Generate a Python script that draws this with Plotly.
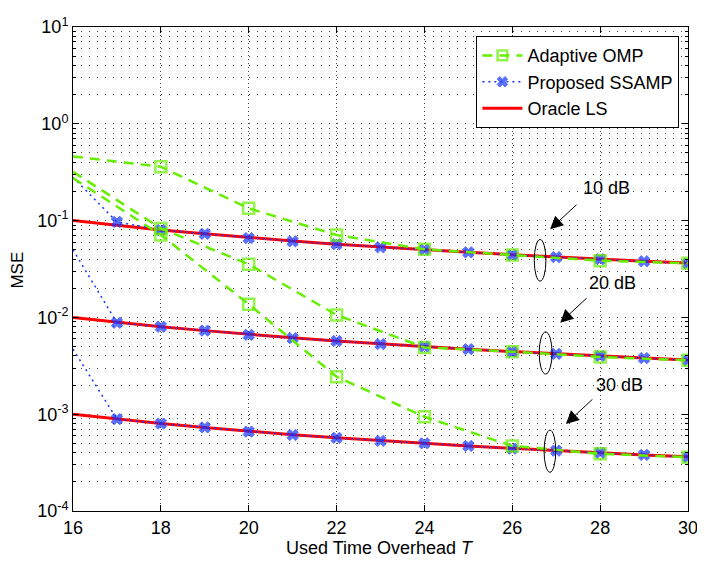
import plotly.graph_objects as go

# time overhead T
t_all = [16, 17, 18, 19, 20, 21, 22, 23, 24, 25, 26, 27, 28, 29, 30]
t_even = [16, 18, 20, 22, 24, 26, 28, 30]

# Oracle LS (10 / 20 / 30 dB)
oracle_10 = [0.100, 0.089, 0.080, 0.073, 0.0665, 0.0615, 0.057, 0.0533, 0.050, 0.047, 0.0444, 0.042, 0.040, 0.038, 0.0364]
oracle_20 = [0.0100, 0.0089, 0.0080, 0.0073, 0.00665, 0.00615, 0.0057, 0.00533, 0.0050, 0.0047, 0.00444, 0.0042, 0.0040, 0.0038, 0.00364]
oracle_30 = [0.00100, 0.00089, 0.00080, 0.00073, 0.000665, 0.000615, 0.00057, 0.000533, 0.00050, 0.00047, 0.000444, 0.00042, 0.00040, 0.00038, 0.000364]

# Proposed SSAMP
ssamp_10 = [0.28, 0.097, 0.080, 0.073, 0.066, 0.061, 0.057, 0.053, 0.050, 0.047, 0.044, 0.042, 0.040, 0.038, 0.036]
ssamp_20 = [0.050, 0.0088, 0.0080, 0.0073, 0.0066, 0.0061, 0.0057, 0.0053, 0.0050, 0.0047, 0.0044, 0.0042, 0.0040, 0.0038, 0.0036]
ssamp_30 = [0.0047, 0.00089, 0.00080, 0.00073, 0.00066, 0.00061, 0.00057, 0.00053, 0.00050, 0.00047, 0.00044, 0.00042, 0.00040, 0.00038, 0.00036]

# Adaptive OMP
omp_10 = [0.46, 0.36, 0.134, 0.071, 0.0505, 0.0441, 0.0385, 0.0362]
omp_20 = [0.32, 0.083, 0.0354, 0.0106, 0.0049, 0.00443, 0.0039, 0.0036]
omp_30 = [0.275, 0.071, 0.0137, 0.00244, 0.00094, 0.00047, 0.00039, 0.00036]

snr_labels = ["10 dB", "20 dB", "30 dB"]
y_tickvals = [1e-4, 1e-3, 1e-2, 1e-1, 1, 10]
y_ticktext = ["10<sup>-4</sup>", "10<sup>-3</sup>", "10<sup>-2</sup>",
              "10<sup>-1</sup>", "10<sup>0</sup>", "10<sup>1</sup>"]

RED = "#ff0000"
BLUE = "#1434ff"
GREEN = "#66ee00"
FONT = "Liberation Sans, Arial, sans-serif"

fig = go.Figure()

for i, ys in enumerate([oracle_10, oracle_20, oracle_30]):
    fig.add_trace(go.Scatter(
        x=t_all, y=ys, mode="lines", name="Oracle LS", legendgroup="ls",
        legendrank=3, showlegend=(i == 0),
        line=dict(color=RED, width=3)))

for i, ys in enumerate([ssamp_10, ssamp_20, ssamp_30]):
    fig.add_trace(go.Scatter(
        x=t_all, y=ys, mode="lines+markers", name="Proposed SSAMP", legendgroup="ssamp",
        legendrank=2, showlegend=(i == 0),
        line=dict(color=BLUE, width=1.5, dash="2px,4px"),
        marker=dict(symbol="x", size=[0] + [10] * 14, color=BLUE,
                    line=dict(width=1, color=BLUE))))

for i, ys in enumerate([omp_10, omp_20, omp_30]):
    fig.add_trace(go.Scatter(
        x=t_even, y=ys, mode="lines+markers", name="Adaptive OMP", legendgroup="omp",
        legendrank=1, showlegend=(i == 0),
        line=dict(color=GREEN, width=2.5, dash="10px,7px"),
        marker=dict(symbol="square-open", size=[0] + [11] * 7, color=GREEN,
                    line=dict(width=2.5, color=GREEN))))

# ellipses round the curve bundles (paper coords)
ellipses = [(0.750, 0.769, 0.475, 0.561),
            (0.758, 0.779, 0.283, 0.370),
            (0.766, 0.785, 0.080, 0.167)]
for x0, x1, y0, y1 in ellipses:
    fig.add_shape(type="circle", xref="paper", yref="paper", x0=x0, x1=x1, y0=y0, y1=y1,
                  line=dict(color="black", width=1))

arrow_tips = [(26.86, -1.090), (27.09, -2.055), (27.22, -3.101)]
label_pos = [(28.15, -0.666), (28.29, -1.648), (28.45, -2.698)]
for (ax_, ay_), (lx, ly), lab in zip(arrow_tips, label_pos, snr_labels):
    fig.add_annotation(x=ax_, y=ay_, xref="x", yref="y", text="", showarrow=True,
                       ax=28, ay=-26, arrowhead=2, arrowsize=2.6, arrowwidth=1,
                       arrowcolor="black")
    fig.add_annotation(x=lx, y=ly, xref="x", yref="y", text=lab, showarrow=False,
                       xanchor="center", yanchor="middle",
                       font=dict(size=18, color="black", family=FONT))

# axis titles
fig.add_annotation(x=-0.090, y=0.498, xref="paper", yref="paper", text="MSE",
                   textangle=-90, showarrow=False, xanchor="center", yanchor="middle",
                   font=dict(size=17, color="black", family=FONT))
fig.add_annotation(x=0.499, y=-0.076, xref="paper", yref="paper",
                   text="Used Time Overhead <i>T</i>", showarrow=False,
                   xanchor="center", yanchor="middle",
                   font=dict(size=18, color="black", family=FONT))

grid_col = "#444444"
fig.update_xaxes(
    range=[16, 30], dtick=2, tick0=16, automargin=False,
    showline=True, linecolor="black", linewidth=1, mirror="ticks",
    ticks="inside", ticklen=6, tickcolor="black",
    showgrid=True, gridcolor=grid_col, gridwidth=1, griddash="1px,3px",
    zeroline=False,
    tickfont=dict(size=18, color="black", family=FONT),
)
fig.update_yaxes(
    type="log", range=[-4, 1], tickvals=y_tickvals, ticktext=y_ticktext, automargin=False,
    showline=True, linecolor="black", linewidth=1, mirror="ticks",
    ticks="inside", ticklen=6, tickcolor="black",
    showgrid=True, gridcolor=grid_col, gridwidth=1, griddash="1px,7px",
    minor=dict(dtick="D1", ticks="inside", ticklen=3, tickcolor="black",
               showgrid=True, gridcolor=grid_col, gridwidth=1, griddash="1px,7px"),
    zeroline=False,
    tickfont=dict(size=18, color="black", family=FONT),
)

# the page puts the figure 8px in from the top-left corner
fig.update_layout(
    width=697, height=555,
    margin=dict(l=65, r=17, t=19, b=52),
    paper_bgcolor="white", plot_bgcolor="white",
    font=dict(family=FONT, color="black"),
    legend=dict(x=0.986, y=0.981, xanchor="right", yanchor="top",
                bgcolor="white", bordercolor="black", borderwidth=1,
                font=dict(size=18, color="black", family=FONT),
                tracegroupgap=0, itemwidth=40),
)

fig.write_html("out.html")
